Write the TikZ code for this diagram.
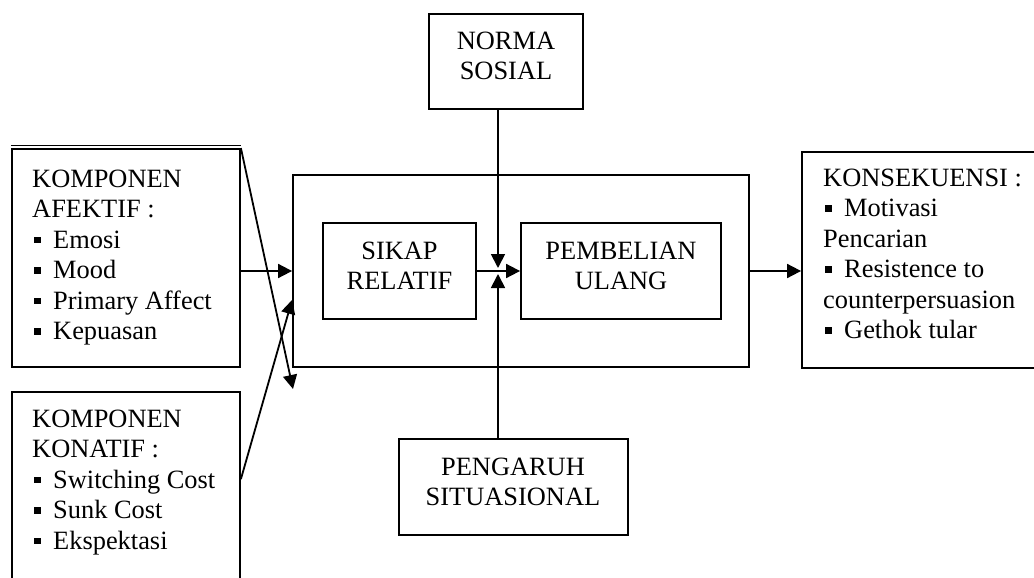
\documentclass[tikz,border=0pt]{standalone}
\usepackage{fontspec}
\setmainfont{Liberation Serif}
\usetikzlibrary{arrows.meta}

% strut that fixes the top of the first line of every text block
\newcommand\firstst{\rule{0pt}{22pt}}
% small black square bullet followed by the gap before the item text
\newcommand\bul{\makebox[21pt][l]{\hspace{2pt}\raisebox{5pt}{\rule{6.5pt}{6.5pt}}}}

\begin{document}
\begin{tikzpicture}[x=1pt,y=-1pt,
  boxst/.style={draw, line width=1.8pt, inner sep=0pt},
  txt/.style={inner sep=0pt, font=\fontsize{26.4}{30.5}\selectfont},
  lefttxt/.style={txt, align=left, anchor=north west},
  midtxt/.style={txt, align=center, anchor=north},
  arr/.style={line width=1.8pt, -{Triangle[length=14pt,width=14pt]}}
]
\useasboundingbox (0,0) rectangle (1034,578);

% ---- boxes ----
\node[boxst, minimum width=228pt, minimum height=218pt] (afek) at (126,258) {};
\draw[line width=1.2pt] ([yshift=2.6pt]afek.north west) -- ([yshift=2.6pt]afek.north east);
\node[boxst, minimum width=228pt, minimum height=220pt] (kona) at (126,502) {};
\node[boxst, minimum width=456pt, minimum height=192pt] (outer) at (521,271) {};
\node[boxst, minimum width=153pt, minimum height=96pt] (sikap) at (399.5,271) {};
\node[boxst, minimum width=200pt, minimum height=96pt] (pemb) at (621,271) {};
\node[boxst, minimum width=154pt, minimum height=95pt] (norma) at (506,61.5) {};
\node[boxst, minimum width=229pt, minimum height=96pt] (peng) at (513.5,487) {};
\node[boxst, minimum width=248pt, minimum height=216pt] (kons) at (926,260) {};

% ---- texts ----
\node[lefttxt] (afektxt) at (32,165) {\firstst KOMPONEN\\AFEKTIF :\\\bul Emosi\\\bul Mood\\\bul Primary Affect\\\bul Kepuasan};
\node[lefttxt] (konatxt) at (32,405) {\firstst KOMPONEN\\KONATIF :\\\bul Switching Cost\\\bul Sunk Cost\\\bul Ekspektasi};
\node[lefttxt] (konstxt) at (823,164) {\firstst KONSEKUENSI :\\\bul Motivasi\\Pencarian\\\bul Resistence to\\counterpersuasion\\\bul Gethok tular};
\node[midtxt] (sikaptxt) at (399.5,237) {\firstst SIKAP\\RELATIF};
\node[midtxt] (pembtxt) at (621,237) {\firstst PEMBELIAN\\ULANG};
\node[midtxt] (normatxt) at (506,27) {\firstst NORMA\\SOSIAL};
\node[midtxt] (pengtxt) at (513,453) {\firstst PENGARUH\\SITUASIONAL};

% ---- connectors ----
\coordinate (jn) at (498,271);
\coordinate (t1) at (293,389);
\draw[arr] (afek.east |- sikap) -- (outer.west |- sikap);
\draw[arr] (afek.north east) -- (t1);
\draw[arr] ([yshift=-88pt]kona.north east) -- ([yshift=68pt]outer.south west);
\draw[arr] (sikap.east) -- (pemb.west);
\draw[arr] (norma.south -| jn) -- ([yshift=3pt]jn);
\draw[arr] (peng.north -| jn) -- ([yshift=-3pt]jn);
\draw[arr] (outer.east) -- (outer.east -| kons.west);
\end{tikzpicture}
\end{document}
